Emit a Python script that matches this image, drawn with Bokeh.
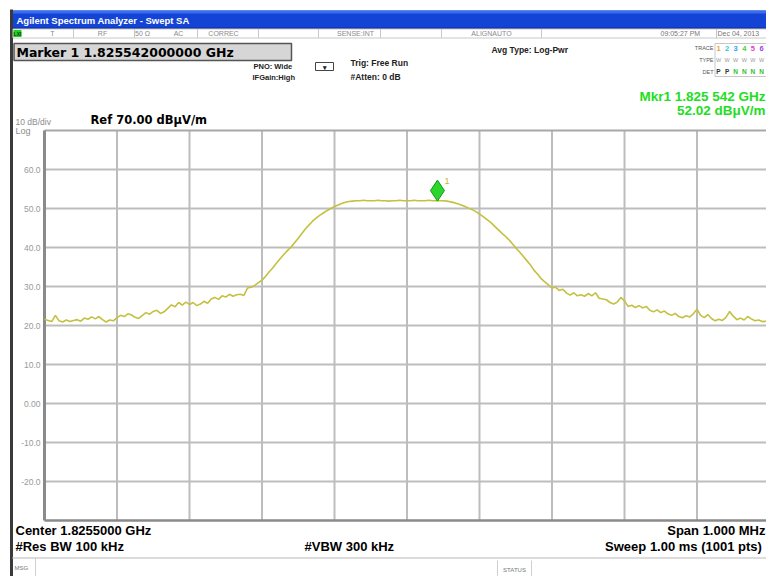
from bokeh.plotting import figure
from bokeh.models import Range1d
from bokeh.core.properties import value
from bokeh.embed import file_html
from bokeh.resources import INLINE

# ---------------- data ----------------
start_mhz = 1825.0
stop_mhz = 1826.0
ref_level = 70.0
db_per_div = 10.0
n_div = 10

trace_db = [
    21.6, 21.3, 21.0, 22.6, 21.2, 20.9, 21.4, 21.0, 21.3, 21.5,
    21.1, 21.9, 21.6, 22.2, 21.7, 22.3, 21.5, 20.9, 21.4, 21.2,
    22.0, 22.6, 22.3, 23.0, 22.7, 22.1, 21.8, 22.6, 23.3, 22.9,
    23.6, 23.9, 23.1, 23.5, 24.4, 25.3, 24.8, 25.9, 25.2, 26.0,
    25.4, 25.9, 25.1, 25.5, 26.2, 25.7, 26.8, 27.2, 26.7, 27.6,
    27.3, 28.0, 27.5, 27.9, 28.0, 27.7, 29.6, 29.8, 30.3, 31.0,
    31.6, 32.6, 33.8, 34.8, 36.0, 37.1, 38.2, 39.2, 40.1, 41.2,
    42.4, 43.6, 44.8, 45.8, 46.8, 47.6, 48.3, 48.9, 49.5, 50.0,
    50.5, 50.9, 51.3, 51.6, 51.8, 51.9, 52.0, 52.0, 52.1, 52.0,
    52.0, 52.0, 52.1, 52.0, 52.0, 51.9, 52.0, 52.0, 52.1, 52.0,
    52.0, 52.0, 52.1, 52.0, 52.0, 52.0, 52.1, 52.0, 52.0, 52.0,
    52.0, 51.9, 51.7, 51.5, 51.2, 50.9, 50.5, 50.1, 49.7, 49.2,
    48.6, 47.9, 47.2, 46.5, 45.6, 44.7, 43.8, 43.0, 42.1, 41.0,
    39.9, 38.9, 37.8, 36.7, 35.6, 34.2, 33.2, 32.0, 31.2, 30.4,
    29.6, 29.8, 29.0, 29.3, 28.3, 27.8, 28.4, 27.6, 27.9, 27.5,
    28.2, 27.6, 28.4, 27.0, 26.8, 26.6, 25.9, 25.5, 26.0, 27.2,
    26.3, 24.9, 25.2, 24.6, 25.1, 24.5, 24.9, 23.9, 23.5, 24.0,
    23.3, 23.7, 23.0, 22.6, 23.1, 22.3, 22.0, 22.5, 22.2, 23.0,
    24.2, 22.6, 22.0, 22.8, 21.8, 21.2, 21.6, 21.3, 22.1, 23.6,
    22.4, 21.5, 21.9, 21.4, 22.3, 21.7, 21.2, 21.4, 21.0, 21.1, 20.8,
]
n_pts = len(trace_db)
trace_mhz = [start_mhz + i * (stop_mhz - start_mhz) / (n_pts - 1) for i in range(n_pts)]

y_ticks = [60, 50, 40, 30, 20, 10, 0, -10, -20]
y_tick_labels = ["60.0", "50.0", "40.0", "30.0", "20.0", "10.0", "0.00", "-10.0", "-20.0"]
x_ticks = [start_mhz + k * (stop_mhz - start_mhz) / n_div for k in range(n_div + 1)]

mkr_mhz = 1825.542
mkr_db = 52.02

trace_numbers = ["1", "2", "3", "4", "5", "6"]
trace_colors = ["#f0a030", "#30c8e0", "#30a0f0", "#40d040", "#e040c0", "#a040f0"]
det_letters = ["P", "P", "N", "N", "N", "N"]
det_colors = ["#333333", "#333333", "#30c030", "#30c030", "#30c030", "#30c030"]

# ---------------- layout ----------------
W, H = 766, 576
OFF = 0                        # decorations are placed in screenshot pixels
GX0, GX1, GY0, GY1 = 44, 769, 130, 520   # graticule box in screenshot pixels
bottom_level = ref_level - db_per_div * n_div
f_per_px = (stop_mhz - start_mhz) / (GX1 - GX0)
db_per_px = (ref_level - bottom_level) / (GY1 - GY0)

x_range = Range1d(start_mhz + (OFF - GX0) * f_per_px, start_mhz + (OFF + W - GX0) * f_per_px)
y_range = Range1d(bottom_level - (OFF + H - GY1) * db_per_px, ref_level + (GY0 - OFF) * db_per_px)

p = figure(width=W, height=H, x_range=x_range, y_range=y_range,
           output_backend="svg", toolbar_location=None,
           x_axis_location=None, y_axis_location=None, min_border=0)
p.extra_x_ranges = {"px": Range1d(OFF, OFF + W)}
p.extra_y_ranges = {"py": Range1d(OFF + H, OFF)}
p.grid.visible = False
p.outline_line_color = None
p.background_fill_color = "white"
p.border_fill_color = "white"

PX = dict(x_range_name="px", y_range_name="py")


def txt(x, y, s, size, color="#000000", bold=True, align="left",
        font="Liberation Sans", baseline="middle"):
    p.text(x=[x], y=[y], text=[s], text_font=value(font),
           text_font_size=f"{size}px", text_color=color,
           text_font_style="bold" if bold else "normal",
           text_align=align, text_baseline=baseline, **PX)


def box(l, r, t, b, fill, line=None, lw=1):
    p.quad(left=[l], right=[r], top=[t], bottom=[b], fill_color=fill,
           line_color=line, line_width=lw, **PX)


# window frame / title bar
box(12, 766, 10, 28, "#1444d6")
box(12, 766, 10, 13, "#3a6cf0")
box(12, 766, 27, 28.5, "#0c2c98")
p.segment(x0=[11], y0=[9], x1=[11], y1=[576], line_color="#3a3a3a", line_width=3, **PX)
txt(16, 19.5, "Agilent Spectrum Analyzer - Swept SA", 9.5, color="white")

# status row
box(12.5, 766, 28.5, 37.5, "white", "#c8c8c8")
box(13, 21, 29.5, 36.5, "#22d022")
txt(17, 33, "LXI", 5, color="#004400", align="center")
for sx in [73, 134, 197, 258, 318, 380, 441, 541, 716]:
    p.segment(x0=[sx], y0=[28.5], x1=[sx], y1=[37.5], line_color="#c8c8c8", line_width=1, **PX)
for sx, s in [(52, "T"), (102, "RF"), (142, "50 Ω"), (178, "AC"), (223, "CORREC"),
              (355, "SENSE:INT"), (491, "ALIGNAUTO")]:
    txt(sx, 33, s, 7, color="#8a8a8a", bold=False, align="center")
txt(660, 33, "09:05:27 PM", 7, color="#777777", bold=False)
txt(717, 33, "Dec 04, 2013", 7, color="#777777", bold=False)

# marker readout box
box(13.5, 291, 43, 60, "#d6d6d6", "#555555", 1.5)
txt(16, 51.5, "Marker 1 1.825542000000 GHz", 12.5, font="DejaVu Sans")

# settings
txt(253, 66, "PNO: Wide", 7.5, color="#222222")
txt(252, 77, "IFGain:High", 7.5, color="#222222")
box(315, 333, 62, 70, "white", "#444444", 1)
txt(324, 67, "▾", 7, color="#222222", align="center")
txt(350, 62, "Trig: Free Run", 8.5, color="#222222")
txt(350, 76, "#Atten: 0 dB", 8.5, color="#222222")
txt(491, 49, "Avg Type: Log-Pwr", 8.5, color="#222222")

# trace table
txt(713, 47, "TRACE", 5.5, color="#555555", bold=False, align="right")
txt(713, 59, "TYPE", 5.5, color="#555555", bold=False, align="right")
txt(713, 71, "DET", 5.5, color="#555555", bold=False, align="right")
box(714.5, 768, 43, 76, None, "#c8c8c8", 1)
for k in range(6):
    cx = 718 + k * 8.6
    txt(cx, 47.5, trace_numbers[k], 7.5, color=trace_colors[k], align="center")
    txt(cx, 59, "W", 5.5, color="#9a9a9a", bold=False, align="center")
    txt(cx, 71, det_letters[k], 6.5, color=det_colors[k], align="center")

# marker readout (green)
txt(765, 96, "Mkr1 1.825 542 GHz", 13.5, color="#22dd22", align="right")
txt(765, 109.5, "52.02 dBμV/m", 13.5, color="#22dd22", align="right")

# scale info
txt(15, 121, "10 dB/div", 8.5, color="#8c8c8c", bold=False)
txt(15, 130, "Log", 9, color="#8c8c8c", bold=False)
txt(90, 119, "Ref 70.00 dBμV/m", 11.5, font="DejaVu Sans")

# graticule
p.segment(x0=x_ticks[1:], y0=[bottom_level] * (len(x_ticks) - 1),
          x1=x_ticks[1:], y1=[ref_level] * (len(x_ticks) - 1),
          line_color="#bdbdbd", line_width=2)
p.segment(x0=[start_mhz] * len(y_ticks), y0=y_ticks,
          x1=[stop_mhz] * len(y_ticks), y1=y_ticks,
          line_color="#bdbdbd", line_width=2)
p.segment(x0=[start_mhz], y0=[ref_level], x1=[stop_mhz], y1=[ref_level],
          line_color="#a8a8a8", line_width=2)
p.segment(x0=[start_mhz], y0=[bottom_level], x1=[stop_mhz], y1=[bottom_level],
          line_color="#8a8a8a", line_width=2.5)
p.segment(x0=[start_mhz], y0=[bottom_level], x1=[start_mhz], y1=[ref_level],
          line_color="#8a8a8a", line_width=3)

p.text(x=[40] * len(y_ticks), y=y_ticks, text=y_tick_labels,
       text_font=value("Liberation Sans"), text_font_size="8.5px",
       text_color="#9a9a9a", text_align="right", text_baseline="middle",
       x_range_name="px")

# trace
p.line(trace_mhz, trace_db, line_color="#c4c040", line_width=1.6)

# marker diamond (sits just above the marker point)
diamond_lift = 10 * db_per_px
p.scatter([mkr_mhz], [mkr_db + diamond_lift], marker="diamond", size=21,
          fill_color="#2cd62c", line_color="#129a12", line_width=1)
p.text(x=[mkr_mhz], y=[mkr_db + 2 * diamond_lift], text=["1"], x_offset=7,
       text_font=value("Liberation Sans"), text_font_size="9px",
       text_color="#c8b830", text_baseline="middle")

# bottom annotations
txt(15, 530, "Center 1.8255000 GHz", 13)
txt(15, 546, "#Res BW 100 kHz", 13)
txt(304, 546, "#VBW 300 kHz", 13)
txt(765, 530, "Span 1.000 MHz", 13, align="right")
txt(765, 546, "Sweep  1.00 ms (1001 pts)", 13, align="right")

# message bar
p.segment(x0=[12], y0=[557.5], x1=[766], y1=[557.5], line_color="#d0d0d0", line_width=1.5, **PX)
p.segment(x0=[35], y0=[557.5], x1=[35], y1=[576], line_color="#d0d0d0", line_width=1, **PX)
p.segment(x0=[497], y0=[560], x1=[497], y1=[576], line_color="#d0d0d0", line_width=1, **PX)
p.segment(x0=[531], y0=[560], x1=[531], y1=[576], line_color="#d0d0d0", line_width=1, **PX)
txt(14, 567, "MSG", 6, color="#777777", bold=False)
txt(514, 569, "STATUS", 6, color="#777777", bold=False, align="center")

open("out.html", "w").write(file_html(p, INLINE))
